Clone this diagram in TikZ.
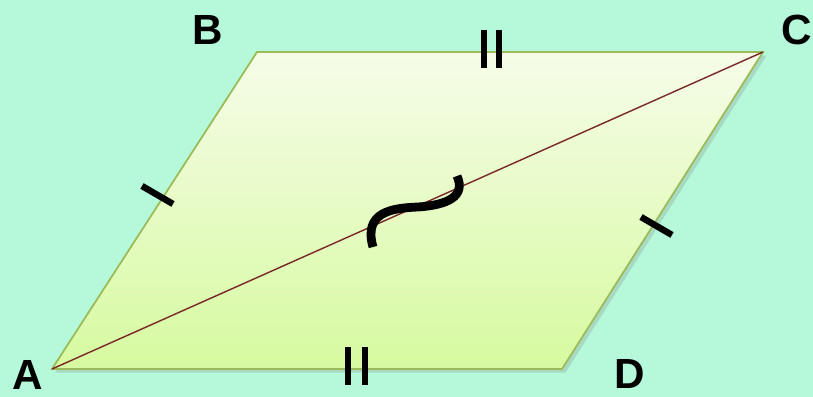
\documentclass[tikz,border=0pt]{standalone}
\usepackage{fontspec}
\setmainfont{Liberation Sans}
\usetikzlibrary{positioning,shadows}
\definecolor{mint}{RGB}{181,248,218}
\definecolor{paletop}{RGB}{246,252,232}
\definecolor{palebot}{RGB}{214,250,160}
\definecolor{edgegreen}{RGB}{155,187,89}
\definecolor{diagred}{RGB}{120,40,40}

\begin{document}
\begin{tikzpicture}[
  x=0.03cm, y=-0.03cm,
  vlabel/.style={font=\fontsize{36}{38}\selectfont\bfseries, inner sep=0pt},
  tick/.style={line width=5.5pt, black},
  quad/.style={draw=edgegreen, line width=1.5pt, top color=paletop, bottom color=palebot,
    drop shadow={shadow xshift=3pt, shadow yshift=-3pt, opacity=0.25}},
  diag/.style={draw=diagred, line width=1.2pt}
]
  \fill[mint] (0,0) rectangle (813,397);
  \useasboundingbox (0,0) rectangle (813,397);

  \coordinate (A) at (52,369);
  \coordinate (B) at (257,52);
  \coordinate (C) at (763,52);
  \coordinate (D) at (562,369);

  \path[quad] (A) -- (B) -- (C) -- (D) -- cycle;
  \draw[diag] (A) -- (C);

  % equal sides
  \draw[tick] (142,186) -- (173,204);
  \draw[tick] (641,217) -- (672,235);
  \draw[tick] (484,30) -- (484,68);
  \draw[tick] (499,30) -- (499,68);
  \draw[tick] (348,347) -- (348,385);
  \draw[tick] (365,347) -- (365,385);

  % congruence sign on the diagonal
  \draw[line width=7.5pt] (373,247) .. controls (363,212) and (392,208) .. (418,207)
    .. controls (448,205) and (466,196) .. (457,176);

  \node[vlabel] (labA) at (28,375) {A};
  \node[vlabel] (labB) at (208,30) {B};
  \node[vlabel] (labC) at (797,30) {C};
  \node[vlabel] (labD) at (630,374) {D};
\end{tikzpicture}
\end{document}
